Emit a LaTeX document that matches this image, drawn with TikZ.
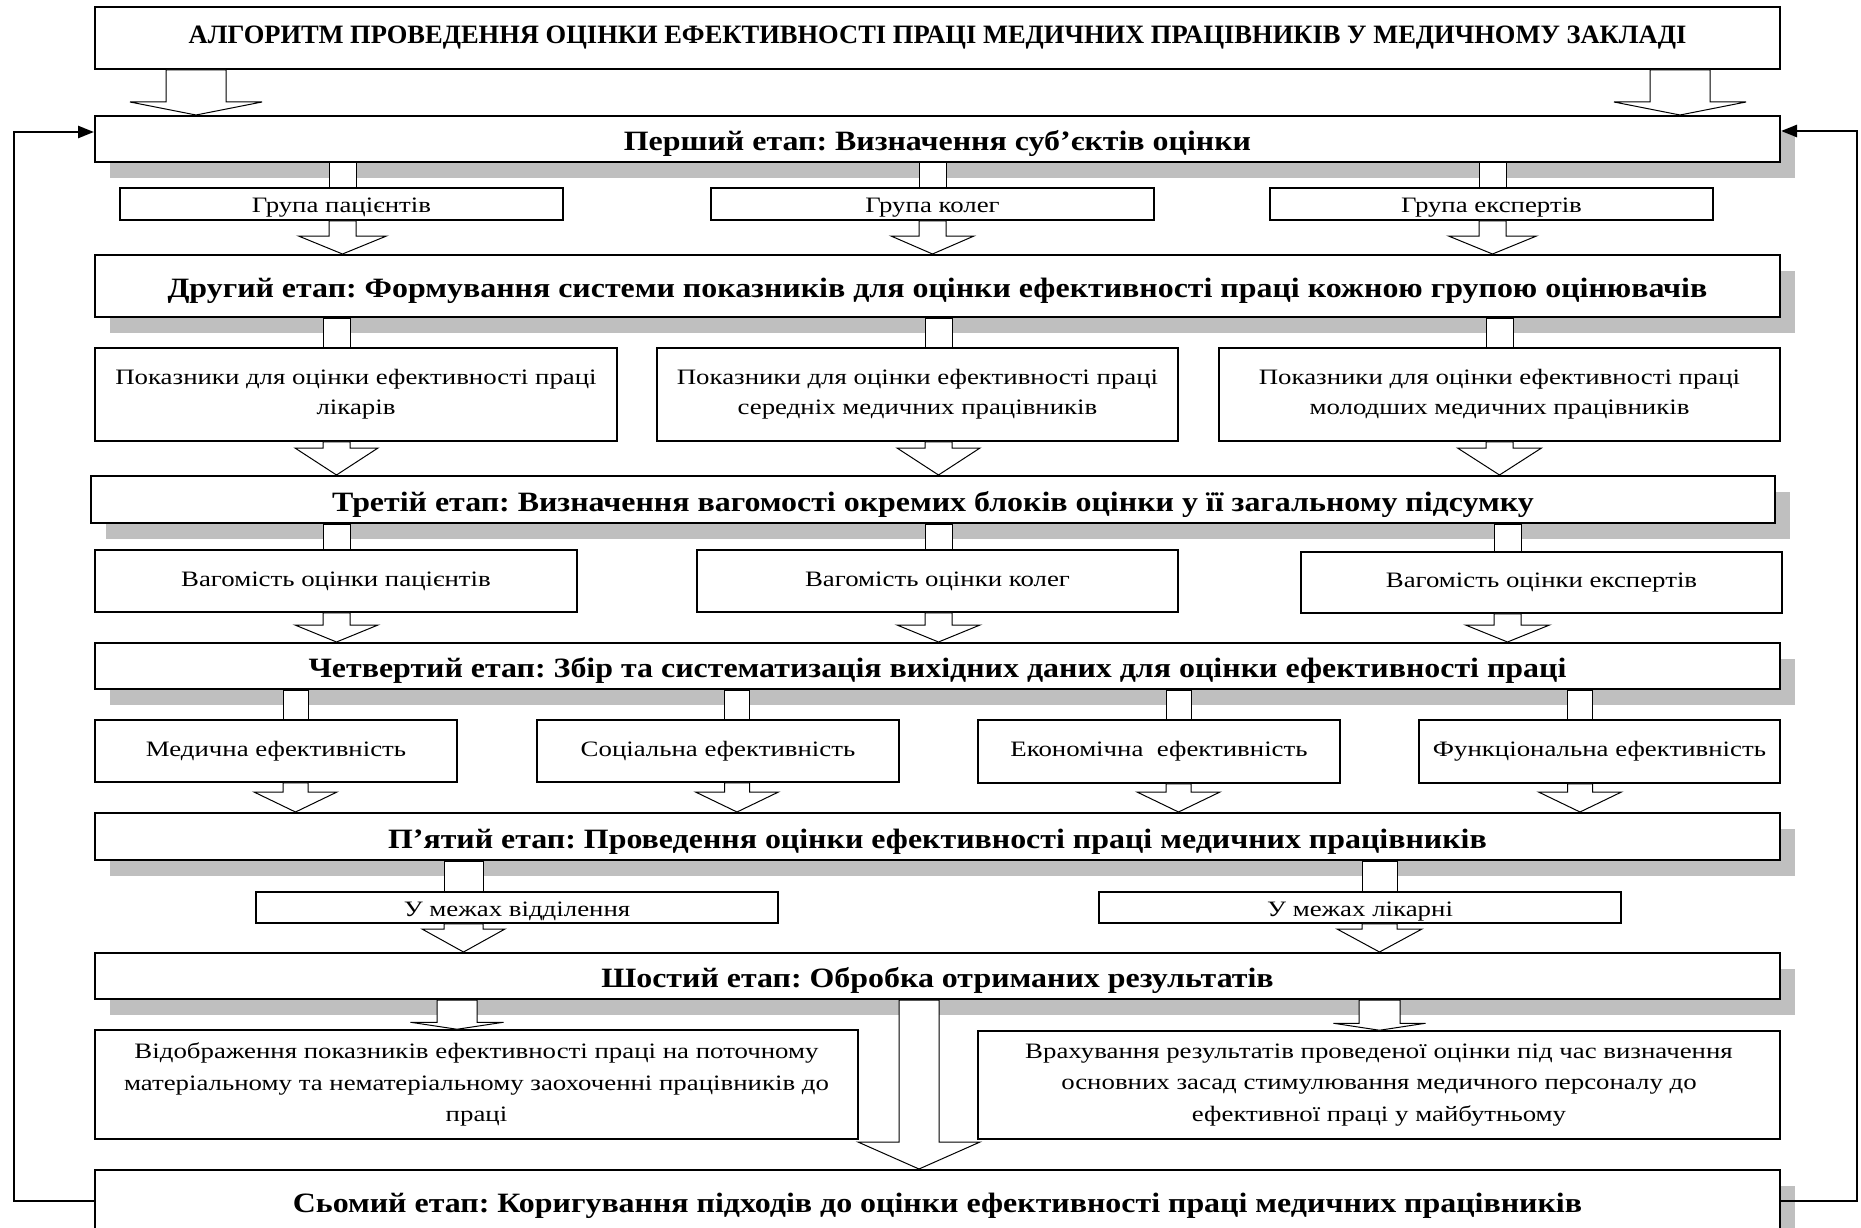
\documentclass[tikz,border=0pt]{standalone}
\usepackage{fontspec}
\setmainfont{Liberation Serif}
\newfontfamily\stagefont{Liberation Serif}[FakeStretch=1.14]
\newfontfamily\subfont{Liberation Serif}[FakeStretch=1.22]
\frenchspacing
\usetikzlibrary{positioning,calc,shadows,arrows.meta}

% hollow block arrow: from, to, x, shaft half width, head half width, head length
\newcommand{\hollowarrow}[6]{%
  \draw[hollow] (#3,0 |- #2.north) coordinate (tip) -- ++(-#5,-#6) -- ++(#5-#4,0)
    -- (#3-#4,0 |- #1.south) -- ++(2*#4,0) |- ($(tip)+(#5,-#6)$) -- cycle;}
% hollow link without a head
\newcommand{\hollowlink}[4]{%
  \draw[hollow] (#3-#4,0 |- #1.south) rectangle (#3+#4,0 |- #2.north);}

\begin{document}
\begin{tikzpicture}[x=1pt, y=-1pt,
    title/.style={draw, line width=2pt, fill=white, minimum width=1685pt, minimum height=62pt, inner sep=0pt, font=\fontsize{26.5}{30}\selectfont\bfseries},
    stage/.style={draw, line width=2pt, fill=white, minimum width=1685pt, inner sep=0pt, text height=23pt, text depth=0pt,
      font=\stagefont\fontsize{28}{32}\selectfont\bfseries,
      drop shadow={shadow xshift=15pt, shadow yshift=-16pt, fill=black!25, opacity=1}},
    sub/.style={draw, line width=1.5pt, fill=white, inner sep=0pt, align=center, font=\subfont\fontsize{22}{30}\selectfont},
    lowsub/.style={sub, text height=17pt, text depth=0pt},
    hollow/.style={draw, fill=white, line width=1pt},
    feedback/.style={line width=2.5pt, -{Triangle[length=16pt,width=12pt]}}
  ]
  \useasboundingbox (0,0) rectangle (1861,1228);

  % Stages
  \node[title] (head) at (937.5,38) {АЛГОРИТМ ПРОВЕДЕННЯ ОЦІНКИ ЕФЕКТИВНОСТІ ПРАЦІ МЕДИЧНИХ ПРАЦІВНИКІВ У МЕДИЧНОМУ ЗАКЛАДІ};
  \node[stage, minimum height=46pt] (first) at (937.5,139) {Перший етап: Визначення суб’єктів оцінки};
  \node[lowsub, minimum width=443pt, minimum height=32pt] (g1) at (341.5,204) {Група пацієнтів};
  \node[lowsub, minimum width=443pt, minimum height=32pt] (g2) at (932.5,204) {Група колег};
  \node[lowsub, minimum width=443pt, minimum height=32pt] (g3) at (1491.5,204) {Група експертів};

  \node[stage, minimum height=62pt] (second) at (937.5,286) {Другий етап: Формування системи показників для оцінки ефективності праці кожною групою оцінювачів};
  \node[sub, minimum width=522pt, minimum height=93pt] (p1) at (356,394.5) {Показники для оцінки ефективності праці\\лікарів};
  \node[sub, minimum width=521pt, minimum height=93pt] (p2) at (917.5,394.5) {Показники для оцінки ефективності праці\\середніх медичних працівників};
  \node[sub, minimum width=561pt, minimum height=93pt] (p3) at (1499.5,394.5) {Показники для оцінки ефективності праці\\молодших медичних працівників};

  \node[stage, minimum width=1684pt, minimum height=47pt] (third) at (933,499.5) {Третій етап: Визначення вагомості окремих блоків оцінки у її загальному підсумку};
  \node[sub, minimum width=482pt, minimum height=62pt] (v1) at (336,581) {Вагомість оцінки пацієнтів};
  \node[sub, minimum width=481pt, minimum height=62pt] (v2) at (937.5,581) {Вагомість оцінки колег};
  \node[sub, minimum width=481pt, minimum height=61pt] (v3) at (1541.5,582.5) {Вагомість оцінки експертів};

  \node[stage, minimum height=46pt] (fourth) at (937.5,666) {Четвертий етап: Збір та систематизація вихідних даних для оцінки ефективності праці};
  \node[sub, minimum width=362pt, minimum height=62pt] (e1) at (276,751) {Медична ефективність};
  \node[sub, minimum width=362pt, minimum height=62pt] (e2) at (718,751) {Соціальна ефективність};
  \node[sub, minimum width=362pt, minimum height=63pt] (e3) at (1159,751.5) {Економічна \ ефективність};
  \node[sub, minimum width=361pt, minimum height=63pt] (e4) at (1599.5,751.5) {Функціональна ефективність};

  \node[stage, minimum height=47pt] (fifth) at (937.5,836.5) {П’ятий етап: Проведення оцінки ефективності праці медичних працівників};
  \node[lowsub, minimum width=522pt, minimum height=31pt] (m1) at (517,907.5) {У межах відділення};
  \node[lowsub, minimum width=522pt, minimum height=31pt] (m2) at (1360,907.5) {У межах лікарні};

  \node[stage, minimum height=46pt] (sixth) at (937.5,976) {Шостий етап: Обробка отриманих результатів};
  \node[sub, minimum width=763pt, minimum height=109pt, font=\subfont\fontsize{22}{31.5}\selectfont] (r1) at (476.5,1084.5) {Відображення показників ефективності праці на поточному\\матеріальному та нематеріальному заохоченні працівників до\\праці};
  \node[sub, minimum width=802pt, minimum height=108pt, font=\subfont\fontsize{22}{31.5}\selectfont] (r2) at (1379,1085) {Врахування результатів проведеної оцінки під час визначення\\основних засад стимулювання медичного персоналу до\\ефективної праці у майбутньому};

  \node[stage, minimum height=62pt] (seventh) at (937.5,1201) {Сьомий етап: Коригування підходів до оцінки ефективності праці медичних працівників};

  % Block arrows
  \hollowarrow{head}{first}{196}{30}{66}{13}
  \hollowarrow{head}{first}{1680}{30}{66}{13}

  \hollowlink{first}{g1}{342.5}{13.5}
  \hollowlink{first}{g2}{932.5}{13.5}
  \hollowlink{first}{g3}{1492.5}{13.5}
  \hollowarrow{g1}{second}{342.5}{13.5}{44}{18}
  \hollowarrow{g2}{second}{932.5}{13.5}{41.5}{18}
  \hollowarrow{g3}{second}{1492.5}{13.5}{44}{18}

  \hollowlink{second}{p1}{336.5}{13.5}
  \hollowlink{second}{p2}{938.5}{13.5}
  \hollowlink{second}{p3}{1499.5}{13.5}
  \hollowarrow{p1}{third}{336.5}{13.5}{41.5}{27}
  \hollowarrow{p2}{third}{938.5}{13.5}{41.5}{27}
  \hollowarrow{p3}{third}{1499.5}{13.5}{42}{27}

  \hollowlink{third}{v1}{336.5}{13.5}
  \hollowlink{third}{v2}{938.5}{13.5}
  \hollowlink{third}{v3}{1507.5}{13.5}
  \hollowarrow{v1}{fourth}{336.5}{13.5}{41.5}{17}
  \hollowarrow{v2}{fourth}{938.5}{13.5}{41.5}{17}
  \hollowarrow{v3}{fourth}{1507.5}{13.5}{42}{17}

  \hollowlink{fourth}{e1}{295.5}{12.5}
  \hollowlink{fourth}{e2}{737}{12.5}
  \hollowlink{fourth}{e3}{1178.5}{12.5}
  \hollowlink{fourth}{e4}{1580}{12.5}
  \hollowarrow{e1}{fifth}{295.5}{12.5}{41.5}{20}
  \hollowarrow{e2}{fifth}{737}{12.5}{41.5}{20}
  \hollowarrow{e3}{fifth}{1178.5}{12.5}{41.5}{20}
  \hollowarrow{e4}{fifth}{1580}{12.5}{41.5}{20}

  \hollowlink{fifth}{m1}{463.5}{19.5}
  \hollowlink{fifth}{m2}{1379.5}{17.5}
  \hollowarrow{m1}{sixth}{463.5}{19.5}{41.5}{23}
  \hollowarrow{m2}{sixth}{1379.5}{17.5}{42.5}{23}

  \hollowarrow{sixth}{r1}{457}{20}{46.5}{7}
  \hollowarrow{sixth}{r2}{1379.5}{20.5}{46}{7}
  \hollowarrow{sixth}{seventh}{919}{20}{61}{27}

  % Feedback
  \draw[feedback] (seventh.west) -- ++(-80,0) |- ($(first.west)+(0,-7)$);
  \draw[feedback] (seventh.east) -- ++(76,0) |- ($(first.east)+(0,-8)$);
\end{tikzpicture}
\end{document}
